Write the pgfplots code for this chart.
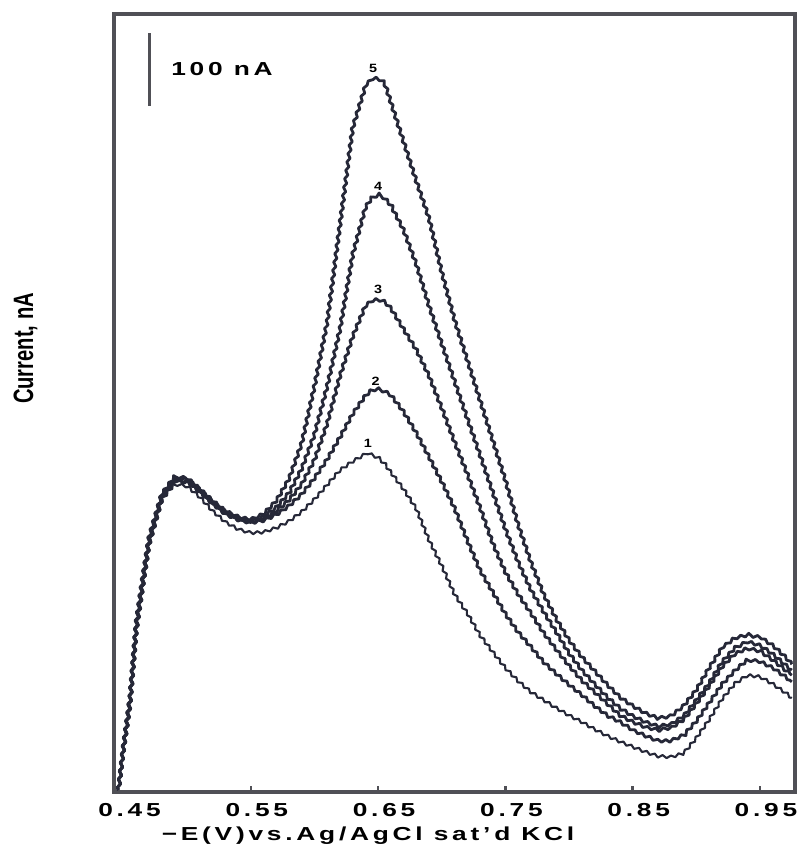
\documentclass[border=0pt]{standalone}
\usepackage{fontspec}
\setmainfont{Liberation Sans}
\newfontfamily\tickfont[FakeStretch=1.4,LetterSpace=20]{Liberation Sans Bold}
\newfontfamily\numfont[FakeStretch=1.2]{Liberation Sans Bold}
\newfontfamily\condfont[FakeStretch=0.72]{Liberation Sans Bold}
\usepackage{pgfplots}
\usepackage{pgfplotstable}
\usetikzlibrary{decorations.pathmorphing}
\pgfplotsset{compat=1.18}
\definecolor{curve}{RGB}{38,40,56}
\definecolor{frame}{RGB}{80,80,86}

\pgfplotstableread{
x     c1  c2  c3  c4  c5
0.446 3   3   3   3   3
0.450 58  59  60  62  64
0.455 116 119 122 125 129
0.460 219 222 225 229 233
0.465 279 282 285 289 293
0.470 337 340 343 345 349
0.480 400 401 403 406 408
0.490 422 425 426 429 432
0.500 419 425 426 429 430
0.510 404 411 412 414 415
0.520 385 395 396 397 399
0.530 370 381 382 384 385
0.540 360 373 374 375 377
0.550 355 369 370 371 373
0.560 356 372 374 377 381
0.570 362 380 385 390 399
0.580 371 392 400 410 429
0.590 384 408 422 443 478
0.600 401 430 455 490 556
0.610 421 456 505 556 644
0.620 441 486 570 634 777
0.630 453 518 624 736 910
0.640 463 543 666 801 967
0.645 462 551 673 814 977
0.650 458 552 675 818 978
0.655 450 549 672 814 972
0.660 438 544 663 804 945
0.670 415 521 634 770 891
0.680 388 492 606 723 837
0.690 345 459 570 666 786
0.700 310 425 526 614 712
0.710 271 389 480 563 647
0.720 245 345 436 512 592
0.730 215 304 390 462 537
0.740 192 274 341 411 482
0.750 170 244 301 360 427
0.760 152 219 271 315 366
0.770 137 199 245 277 315
0.780 126 178 218 247 271
0.790 115 162 195 219 237
0.800 105 147 173 190 208
0.810 96  133 153 167 185
0.820 86  118 137 148 166
0.830 77  105 121 130 147
0.840 69  96  105 115 130
0.850 62  85  96  104 118
0.860 55  77  89  96  108
0.870 49  70  85  90  101
0.880 48  70  88  93  104
0.890 53  78  99  104 118
0.900 74  97  121 126 140
0.910 99  122 145 149 170
0.920 127 147 171 178 197
0.930 148 166 189 197 211
0.940 160 181 197 206 215
0.950 158 179 193 201 212
0.960 148 170 181 189 201
0.970 136 158 167 174 185
0.975 129 151 160 167 175
}\data

\begin{document}
\begin{tikzpicture}
\begin{axis}[name=ax, scale only axis, width=340.5pt, height=389pt,
  xmin=0.4425, xmax=0.9775, ymin=0, ymax=1066,
  clip=false,
  axis line style={draw=frame, line width=1.6pt},
  xtick={0.55,0.65,0.75,0.85,0.95},
  xticklabels={0.55,0.65,0.75,0.85,0.95},
  extra x ticks={0.45}, extra x tick labels={0.45},
  extra x tick style={major tick length=0pt},
  ytick=\empty,
  xtick pos=bottom, tick align=inside, major tick length=3pt,
  tick style={draw=frame, line width=1.3pt},
  xticklabel style={font=\tickfont\fontsize{9.4}{11}\selectfont, xshift=3pt, yshift=-2pt},
  xlabel={−E(V)vs.Ag/AgCl sat’d KCl},
  xlabel style={font=\tickfont\fontsize{9.4}{11}\selectfont, at={(axis description cs:0.373,0)}, anchor=north, yshift=-14pt},
  ylabel={Current, nA},
  ylabel style={font=\condfont\fontsize{14}{16}\selectfont, at={(axis description cs:-0.13,0.57)}, anchor=center},
  every axis plot/.append style={curve, line join=round,
     decorate, decoration={zigzag, segment length=4.2pt, amplitude=0.7pt}},
]
\addplot[line width=1.05pt] table[x=x,y=c1]{\data};
\addplot[line width=1.4pt] table[x=x,y=c2]{\data};
\addplot[line width=1.4pt] table[x=x,y=c3]{\data};
\addplot[line width=1.4pt] table[x=x,y=c4]{\data};
\addplot[line width=1.4pt] table[x=x,y=c5]{\data};
\node[font=\numfont\fontsize{6}{7}\selectfont] at (axis cs:0.646,992) {5};
\node[font=\numfont\fontsize{6}{7}\selectfont] at (axis cs:0.650,830) {4};
\node[font=\numfont\fontsize{6}{7}\selectfont] at (axis cs:0.650,688) {3};
\node[font=\numfont\fontsize{6}{7}\selectfont] at (axis cs:0.648,563) {2};
\node[font=\numfont\fontsize{6}{7}\selectfont] at (axis cs:0.642,477) {1};
\draw[frame, line width=1.5pt] (axis cs:0.470,940) -- (axis cs:0.470,1040);
\node[font=\tickfont\fontsize{9.4}{11}\selectfont, anchor=west] at (axis cs:0.482,990) {100 nA};
\end{axis}
\pgfresetboundingbox
\path ([xshift=-57pt,yshift=-30pt]ax.south west) rectangle ([xshift=1pt,yshift=7pt]ax.north east);
\end{tikzpicture}
\end{document}
